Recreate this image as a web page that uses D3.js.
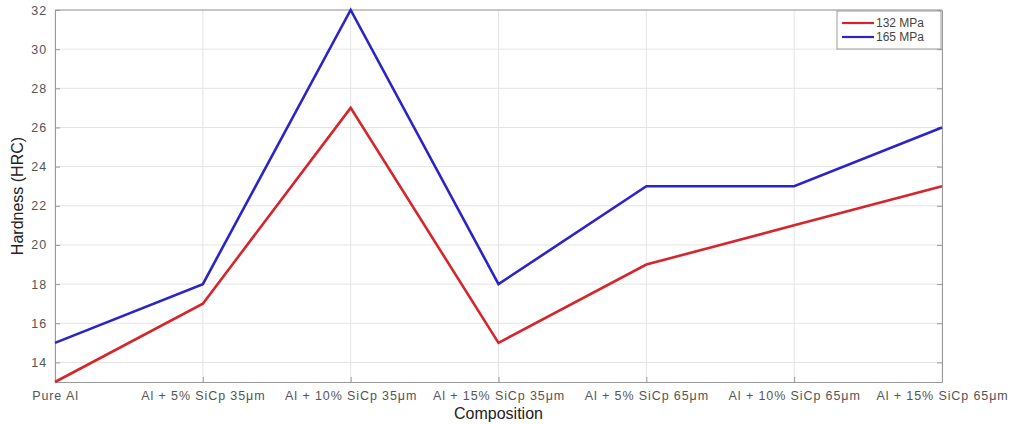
<!DOCTYPE html>
<html>
<head>
<meta charset="utf-8">
<script src="https://cdn.jsdelivr.net/npm/d3@7"></script>
<style>
  body { margin: 0; background: #fff; }
  text { font-family: "Liberation Sans", Arial, sans-serif; }
</style>
</head>
<body>
<script>
// data
const categories = ["Pure Al", "Al + 5% SiCp 35\u03BCm", "Al + 10% SiCp 35\u03BCm", "Al + 15% SiCp 35\u03BCm",
  "Al + 5% SiCp 65\u03BCm", "Al + 10% SiCp 65\u03BCm", "Al + 15% SiCp 65\u03BCm"];
const mpa132 = [13, 17, 27, 15, 19, 21, 23];
const mpa165 = [15, 18, 32, 18, 23, 23, 26];
const seriesNames = ["132 MPa", "165 MPa"];
const yTicks = [14, 16, 18, 20, 22, 24, 26, 28, 30, 32];

var width = 1015, height = 424;
var margin = {left: 55, right: 73, top: 10, bottom: 42};
var w = width - margin.left - margin.right, h = height - margin.top - margin.bottom;

var svg = d3.select("body").append("svg")
    .attr("width", width).attr("height", height);
var g = svg.append("g")
    .attr("transform", "translate(" + margin.left + "," + margin.top + ")");

var x = d3.scalePoint().domain(categories).range([0, w]);
var y = d3.scaleLinear().domain([13, 32]).range([h, 0]);

// grid
g.append("g").selectAll("line").data(yTicks).enter().append("line")
    .attr("x1", 0).attr("x2", w)
    .attr("y1", function(d){ return y(d); }).attr("y2", function(d){ return y(d); })
    .style("stroke", "#e4e4e4").style("stroke-width", 1);
g.append("g").selectAll("line").data(categories).enter().append("line")
    .attr("x1", function(d){ return x(d); }).attr("x2", function(d){ return x(d); })
    .attr("y1", 0).attr("y2", h)
    .style("stroke", "#e4e4e4").style("stroke-width", 1);

// axes (ticks inside, matlab style)
var xAxis = g.append("g").attr("transform", "translate(0," + h + ")")
    .call(d3.axisBottom(x).tickSizeInner(-5).tickSizeOuter(0).tickPadding(9));
var yAxis = g.append("g")
    .call(d3.axisLeft(y).tickValues(yTicks).tickSizeInner(-5).tickSizeOuter(0).tickPadding(8));
var yAxisR = g.append("g").attr("transform", "translate(" + w + ",0)")
    .call(d3.axisRight(y).tickValues(yTicks).tickSizeInner(-5).tickSizeOuter(0).tickFormat(""));
g.append("line").attr("x1", 0).attr("x2", w).attr("y1", 0).attr("y2", 0)
    .style("stroke", "#9a9a9a");

[xAxis, yAxis, yAxisR].forEach(function(a){
  a.selectAll("path").style("stroke", "#9a9a9a");
  a.selectAll("line").style("stroke", "#9a9a9a");
  a.selectAll("text").style("fill", "#555").style("font-size", "12.5px")
    .style("letter-spacing", "0.9px");
});

// lines
var line = d3.line()
    .x(function(d, i){ return x(categories[i]); })
    .y(function(d){ return y(d); });
var colors = ["#d4262c", "#2b25c8"];
[mpa132, mpa165].forEach(function(s, i){
  g.append("path").datum(s).attr("d", line)
    .style("fill", "none").style("stroke", colors[i]).style("stroke-width", 2.6)
    .style("stroke-linejoin", "miter");
});

// legend
var lg = g.append("g").attr("transform", "translate(" + (w - 105) + ",1)");
lg.append("rect").attr("width", 104).attr("height", 38)
    .style("fill", "#fff").style("stroke", "#9a9a9a");
seriesNames.forEach(function(n, i){
  lg.append("line").attr("x1", 5).attr("x2", 37).attr("y1", 12 + i * 14).attr("y2", 12 + i * 14)
    .style("stroke", colors[i]).style("stroke-width", 2.2);
  lg.append("text").attr("x", 39).attr("y", 16 + i * 14).text(n)
    .style("font-size", "12px").style("fill", "#444");
});

// axis labels
svg.append("text").attr("x", margin.left + w / 2).attr("y", 419)
    .attr("text-anchor", "middle").style("font-size", "16px").style("fill", "#222")
    .text("Composition");
svg.append("text").attr("transform", "translate(23," + (margin.top + h / 2) + ") rotate(-90)")
    .attr("text-anchor", "middle").style("font-size", "16px").style("fill", "#222")
    .text("Hardness (HRC)");
</script>
</body>
</html>
